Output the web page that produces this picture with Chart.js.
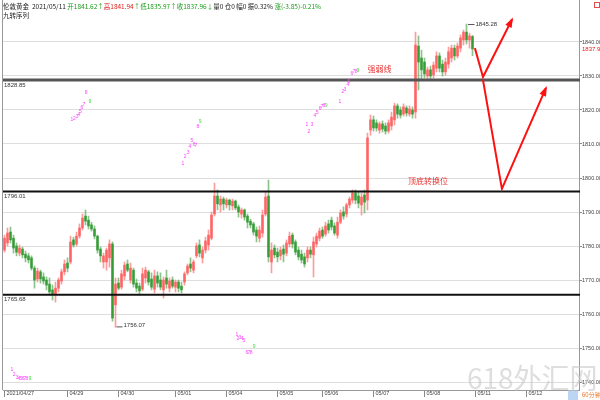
<!DOCTYPE html>
<html><head><meta charset="utf-8">
<script src="https://cdn.jsdelivr.net/npm/chart.js@4/dist/chart.umd.min.js"></script>
<style>html,body{margin:0;padding:0;background:#fff}canvas{display:block}</style>
</head><body>
<canvas id="c" width="600" height="400"></canvas>
<script>
// ---- data ----
const open = [
1778.8,1780.9,1784.1,1782.3,1780.0,1777.9,1779.1,1777.6,1777.1,1776.5,
1773.5,1770.3,1772.4,1770.9,1770.0,1768.8,1767.1,1765.9,1767.6,1769.7,
1772.4,1775.0,1775.3,1781.8,1780.6,1782.9,1785.3,1788.8,1787.6,1786.2,
1785.0,1782.9,1779.1,1775.3,1775.3,1776.5,1780.6,1762.7,1769.1,1767.9,
1771.2,1774.7,1770.0,1772.9,1769.1,1768.2,1767.3,1770.6,1772.4,1770.3,
1767.3,1771.2,1770.0,1767.1,1770.6,1767.6,1770.0,1767.9,1769.4,1768.2,
1769.4,1772.1,1774.7,1772.9,1777.1,1780.3,1776.5,1778.8,1780.3,1782.3,
1789.4,1794.7,1792.1,1793.8,1792.1,1793.5,1791.8,1793.2,1791.5,1789.4,
1790.6,1788.8,1787.3,1786.5,1784.7,1782.3,1783.8,1789.4,1794.7,1775.3,
1779.4,1778.2,1777.1,1779.1,1777.9,1780.6,1783.2,1781.2,1778.8,1777.6,
1776.8,1776.5,1778.8,1777.4,1780.6,1782.3,1784.7,1783.5,1786.5,1787.6,
1785.9,1783.2,1787.0,1790.0,1789.4,1792.1,1793.5,1795.6,1794.7,1792.1,
1795.0,1793.5,1814.1,1817.1,1816.2,1814.1,1815.9,1815.3,1813.8,1815.3,
1817.1,1821.2,1820.0,1818.8,1820.6,1818.8,1820.0,1819.4,1838.8,1835.3,
1834.1,1830.0,1831.8,1830.3,1832.3,1835.9,1833.5,1831.2,1833.5,1835.3,
1838.2,1835.9,1838.2,1840.6,1842.9,1840.6,1841.62];
const high = [
1783.2,1785.3,1785.6,1783.2,1780.9,1780.3,1779.7,1778.5,1777.9,1777.1,
1774.1,1773.5,1772.9,1772.1,1770.9,1770.6,1768.5,1769.4,1770.6,1773.2,
1775.9,1776.5,1782.9,1782.6,1784.1,1786.5,1789.4,1790.6,1788.8,1787.0,
1785.9,1783.2,1779.7,1777.9,1779.4,1781.8,1781.2,1770.6,1770.6,1772.9,
1775.3,1775.9,1775.0,1773.5,1770.3,1769.1,1773.5,1773.8,1772.9,1772.1,
1772.9,1772.4,1772.1,1770.9,1772.9,1770.6,1770.9,1770.0,1770.0,1769.4,
1772.4,1774.7,1776.5,1775.9,1780.9,1781.8,1779.7,1782.6,1784.7,1790.0,
1798.5,1796.5,1794.7,1794.4,1794.1,1793.8,1793.8,1793.5,1792.1,1791.2,
1790.9,1789.4,1787.9,1787.0,1785.6,1785.9,1790.6,1795.9,1799.4,1780.9,
1780.3,1779.4,1779.7,1780.3,1781.8,1784.1,1783.8,1781.8,1779.7,1778.8,
1777.9,1779.7,1779.7,1782.6,1783.8,1785.3,1785.6,1787.0,1787.6,1788.5,
1786.8,1788.5,1790.6,1791.5,1792.6,1794.4,1796.5,1796.5,1795.9,1795.6,
1796.5,1813.2,1818.5,1818.2,1817.1,1816.5,1816.8,1816.2,1817.1,1819.4,
1822.0,1821.8,1820.9,1821.8,1821.2,1821.2,1820.9,1842.9,1841.8,1837.6,
1835.3,1832.6,1832.9,1834.1,1837.1,1836.8,1834.7,1835.3,1838.5,1839.1,
1839.1,1839.7,1842.1,1843.5,1845.28,1842.6,1841.94];
const low = [
1778.2,1780.0,1780.9,1777.9,1777.1,1777.1,1776.5,1775.3,1775.0,1772.9,
1767.6,1769.4,1769.1,1768.8,1767.1,1765.6,1764.1,1763.5,1766.5,1768.8,
1771.5,1772.4,1774.7,1779.7,1780.0,1782.3,1784.7,1786.2,1785.0,1784.4,
1782.1,1777.9,1775.3,1773.5,1772.9,1773.8,1757.9,1756.07,1767.1,1767.3,
1770.0,1772.4,1769.1,1767.9,1766.5,1765.6,1766.8,1769.1,1768.5,1767.1,
1766.2,1767.9,1767.1,1764.7,1767.6,1766.5,1767.6,1766.5,1766.5,1766.2,
1768.5,1771.5,1772.4,1772.1,1776.5,1776.8,1775.0,1777.9,1778.8,1781.8,
1788.8,1790.6,1790.0,1790.6,1791.2,1790.6,1790.6,1790.6,1788.5,1788.2,
1787.6,1785.3,1785.3,1783.2,1781.2,1781.2,1782.6,1788.8,1775.3,1772.1,
1776.5,1775.3,1775.9,1775.3,1777.1,1779.7,1779.4,1777.4,1775.9,1775.0,
1773.8,1775.3,1776.5,1770.9,1779.7,1781.5,1782.3,1782.9,1783.8,1784.7,
1783.2,1782.3,1786.5,1787.9,1788.5,1791.2,1792.6,1792.4,1791.2,1789.1,
1789.7,1790.6,1812.6,1813.8,1813.8,1813.2,1813.5,1812.9,1813.2,1814.1,
1815.6,1817.6,1817.6,1818.2,1818.2,1818.2,1817.6,1817.6,1825.9,1828.8,
1829.4,1828.8,1828.8,1829.4,1831.2,1831.2,1830.0,1830.3,1832.3,1834.1,
1834.7,1835.3,1837.1,1839.1,1839.4,1838.2,1835.97];
const close = [
1782.3,1783.8,1781.8,1779.4,1778.2,1779.4,1777.4,1776.5,1775.9,1773.5,
1770.0,1772.6,1770.3,1769.7,1768.5,1766.5,1765.9,1767.6,1770.0,1772.4,
1774.7,1773.5,1781.2,1780.3,1782.9,1785.3,1788.2,1787.3,1785.9,1785.0,
1782.9,1778.8,1777.1,1777.1,1778.8,1780.6,1758.8,1768.8,1767.6,1771.8,
1774.4,1772.9,1773.5,1768.8,1767.6,1766.8,1771.8,1772.9,1769.4,1767.9,
1771.2,1769.1,1767.9,1770.0,1768.8,1769.7,1768.2,1769.4,1767.6,1767.1,
1771.8,1774.1,1773.5,1775.3,1780.0,1777.9,1778.8,1781.5,1783.2,1789.1,
1794.7,1792.4,1793.8,1792.4,1793.5,1792.1,1793.2,1791.2,1790.0,1790.6,
1788.5,1787.0,1786.2,1784.1,1782.9,1784.7,1789.1,1794.4,1776.8,1778.8,
1777.4,1776.8,1778.8,1777.6,1780.9,1782.9,1780.6,1778.2,1776.8,1775.9,
1774.7,1778.8,1777.6,1781.2,1782.9,1784.4,1782.9,1785.9,1784.7,1785.6,
1783.8,1787.0,1789.7,1788.8,1792.1,1793.8,1795.6,1793.5,1792.6,1794.4,
1792.9,1811.8,1817.1,1814.7,1814.7,1815.9,1814.4,1813.8,1816.2,1817.9,
1821.2,1818.8,1818.5,1820.9,1819.1,1820.3,1818.8,1839.1,1834.1,1831.8,
1830.6,1831.8,1830.0,1833.2,1835.9,1832.3,1831.2,1834.1,1837.1,1838.2,
1835.9,1838.8,1841.2,1842.9,1840.6,1841.8,1837.96];

const totalSlots = 192;                 // hourly slots incl. empty future
const dayLabels = ['2021/04/27','04/29','04/30','05/01','05/04','05/05','05/06','05/07','05/08','05/11','05/12'];
const dayStart  = [0,21,38,57,74,91,106,123,140,157,174];
const yTicks = [1740,1750,1760,1770,1780,1790,1800,1810,1820,1830,1840];
const levelValues = [1828.85, 1796.01, 1765.68];
const highMark = {idx:154, value:1845.28};
const lowMark  = {idx:37,  value:1756.07};
const lastPrice = 1837.96;
const arrowA = [[156.8,1838.2],[159.5,1829.7],[169.2,1846.7]];
const arrowB = [[159.5,1828.8],[165.8,1796.8],[180.5,1826.5]];
const tdNums = [
 [22.5,1817.1,'1'],[23.3,1817.4,'2'],[24.2,1818.0,'3'],[24.8,1818.5,'4'],[25.3,1819.4,'5'],[25.8,1820.6,'6'],[26.5,1821.5,'7'],[27.2,1825.0,'8'],[28.5,1822.4,'9'],
 [59.5,1804.1,'1'],[60.2,1806.2,'2'],[61.2,1807.4,'3'],[61.8,1809.1,'4'],[62.5,1810.9,'5'],[63.2,1809.7,'6'],[63.8,1809.4,'7'],[64.5,1815.0,'8'],[65.2,1816.5,'9'],
 [100.8,1815.6,'1'],[101.5,1813.5,'2'],[102.5,1815.6,'3'],[103.5,1818.2,'4'],[104.2,1819.1,'5'],[105.2,1820.3,'6'],[105.8,1820.9,'7'],[106.5,1821.2,'8'],[107.2,1821.2,'9'],
 [111.8,1822.4,'1'],[112.8,1825.3,'2'],[113.5,1825.9,'3'],[114.5,1827.6,'4'],[114.8,1828.2,'5'],[115.8,1830.6,'6'],[116.5,1831.2,'7'],[117.2,1831.2,'8'],[117.8,1831.5,'9'],
 [77.5,1753.8,'1'],[77.8,1752.9,'2'],[78.5,1753.2,'3'],[79.2,1752.9,'4'],[79.8,1752.3,'5'],[80.8,1748.5,'6'],[81.5,1748.5,'7'],[82.2,1748.5,'8'],[83.2,1750.3,'9'],
 [2.5,1743.5,'1'],[3.2,1742.3,'2'],[4.2,1741.2,'3'],[4.8,1740.9,'4'],[5.5,1740.9,'5'],[6.2,1740.9,'6'],[6.8,1740.9,'7'],[7.5,1740.9,'8'],[8.5,1740.9,'9']
];
const headerParts = [
 ['伦敦黄金  2021/05/11 ','#222'],['开1841.62','#1a9a1a'],['↑','#1a9a1a'],['高1841.94','#e02020'],['↑','#1a9a1a'],
 ['低1835.97','#1a9a1a'],['↑','#1a9a1a'],['收1837.96','#1a9a1a'],['↓','#1a9a1a'],['量0 仓0 幅0 振0.32% ','#222'],['涨(-3.85)-0.21%','#1a9a1a']
];
const header2 = '九转序列';
const notes = [{text:'强弱线', idx:121, value:1832.0},{text:'顶底转换位', idx:134.5, value:1799.0}];

// ---- build ----
const slotLabels = Array.from({length: totalSlots}, () => '');
dayStart.forEach((s, k) => { slotLabels[s] = dayLabels[k]; });
const isUp = i => close[i] >= open[i];
const RED = 'rgba(255,90,90,0.85)', GREEN = 'rgba(40,150,40,0.85)';
const RED_W = 'rgba(255,130,130,0.8)', GREEN_W = 'rgba(90,170,90,0.7)';
const FONT = "'Liberation Sans', Arial, 'Noto Sans CJK SC', sans-serif";
const CJK = "'Noto Sans CJK SC', 'Liberation Sans', sans-serif";

const overlay = {
  id: 'overlay',
  afterDatasetsDraw(chart) {
    const {ctx, chartArea: ca, scales: {x, y}} = chart;
    ctx.save();
    levelValues.forEach((v, k) => {
      const py = y.getPixelForValue(v);
      ctx.beginPath();
      ctx.strokeStyle = k === 0 ? '#555' : '#111';
      ctx.lineWidth = k === 0 ? 3 : 2;
      ctx.moveTo(ca.left, py); ctx.lineTo(ca.right + 1, py); ctx.stroke();
      ctx.fillStyle = '#333'; ctx.font = '6px ' + FONT;
      ctx.textBaseline = 'top'; ctx.textAlign = 'left';
      ctx.fillText(v.toFixed(2), ca.left + 1, py + 2);
    });
    ctx.strokeStyle = '#555'; ctx.lineWidth = 1; ctx.fillStyle = '#333'; ctx.font = '6px ' + FONT;
    let hx = x.getPixelForValue(highMark.idx), hy = y.getPixelForValue(highMark.value);
    ctx.beginPath(); ctx.moveTo(hx + 1.5, hy + 0.5); ctx.lineTo(hx + 8, hy + 0.5); ctx.stroke();
    ctx.textBaseline = 'middle'; ctx.fillText(highMark.value.toFixed(2), hx + 9, hy);
    let lx = x.getPixelForValue(lowMark.idx), ly = y.getPixelForValue(lowMark.value);
    ctx.beginPath(); ctx.moveTo(lx + 1, ly - 0.5); ctx.lineTo(lx + 7, ly - 0.5); ctx.stroke();
    ctx.textBaseline = 'bottom'; ctx.fillText(lowMark.value.toFixed(2), lx + 8, ly + 1);
    ctx.font = '5px ' + FONT; ctx.textAlign = 'center'; ctx.textBaseline = 'middle';
    tdNums.forEach(([i, v, t]) => {
      ctx.fillStyle = t === '9' ? '#3ddc3d' : '#ff40ff';
      ctx.fillText(t, x.getPixelForValue(i), y.getPixelForValue(v));
    });
    ctx.font = '8px ' + CJK; ctx.fillStyle = '#e83030'; ctx.textAlign = 'left'; ctx.textBaseline = 'middle';
    notes.forEach(n => ctx.fillText(n.text, x.getPixelForValue(n.idx), y.getPixelForValue(n.value)));
    const drawArrow = pts => {
      const p = pts.map(([i, v]) => [x.getPixelForValue(i), y.getPixelForValue(v)]);
      ctx.strokeStyle = '#ff1010'; ctx.fillStyle = '#ff1010'; ctx.lineWidth = 2;
      ctx.beginPath(); ctx.moveTo(p[0][0], p[0][1]);
      for (let k = 1; k < p.length; k++) ctx.lineTo(p[k][0], p[k][1]);
      ctx.stroke();
      const [x1, y1] = p[p.length - 2], [x2, y2] = p[p.length - 1];
      const a = Math.atan2(y2 - y1, x2 - x1), L = 8, W = 3.5;
      ctx.beginPath();
      ctx.moveTo(x2 + Math.cos(a) * 2, y2 + Math.sin(a) * 2);
      ctx.lineTo(x2 - Math.cos(a) * L + Math.sin(a) * W, y2 - Math.sin(a) * L - Math.cos(a) * W);
      ctx.lineTo(x2 - Math.cos(a) * L - Math.sin(a) * W, y2 - Math.sin(a) * L + Math.cos(a) * W);
      ctx.closePath(); ctx.fill();
    };
    drawArrow(arrowA); drawArrow(arrowB);
    ctx.restore();
  },
  afterDraw(chart) {
    const {ctx, chartArea: ca, scales: {y}} = chart;
    ctx.save();
    ctx.strokeStyle = '#999'; ctx.lineWidth = 1;
    ctx.beginPath(); ctx.moveTo(ca.left - 0.5, 0); ctx.lineTo(ca.left - 0.5, ca.bottom); ctx.stroke();
    ctx.beginPath(); ctx.moveTo(ca.right + 0.5, 0); ctx.lineTo(ca.right + 0.5, ca.top); ctx.stroke();
    ctx.font = '6.5px ' + CJK; ctx.textBaseline = 'middle'; ctx.textAlign = 'left';
    let cx = 3;
    headerParts.forEach(([t, c]) => { ctx.fillStyle = c; ctx.fillText(t, cx, 7); cx += ctx.measureText(t).width; });
    ctx.fillStyle = '#222'; ctx.fillText(header2, 3, 16);
    ctx.font = '6px ' + FONT; ctx.fillStyle = '#e02020';
    ctx.fillText(lastPrice.toFixed(2), ca.right + 3, y.getPixelForValue(lastPrice));
    ctx.strokeStyle = '#e05050'; ctx.strokeRect(594.5, 2.5, 5, 5);
    ctx.fillStyle = '#bcd5f2'; ctx.fillRect(ca.right - 11, ca.bottom + 0.5, 10, 10);
    ctx.fillStyle = '#e8782a'; ctx.font = '6px ' + CJK;
    ctx.fillText('60分钟', ca.right + 3, ca.bottom + 5);
    ctx.font = '28px ' + CJK; ctx.fillStyle = 'rgba(200,200,200,0.6)'; ctx.textBaseline = 'alphabetic';
    ctx.fillText('618外汇网', 467, 389);
    ctx.restore();
  }
};

new Chart(document.getElementById('c'), {
  type: 'bar',
  data: {
    labels: slotLabels,
    datasets: [
      { data: low.map((l, i) => [l, high[i]]), grouped: false, barThickness: 1,
        backgroundColor: c => isUp(c.dataIndex) ? RED_W : GREEN_W, borderWidth: 0, order: 2 },
      { data: open.map((o, i) => [o, close[i]]), grouped: false, barThickness: 2, minBarLength: 1,
        backgroundColor: c => isUp(c.dataIndex) ? RED : GREEN, borderWidth: 0, order: 1 }
    ]
  },
  options: {
    responsive: false, animation: false, devicePixelRatio: 1,
    layout: { padding: { left: 3, top: 10, right: 0, bottom: 0 } },
    plugins: { legend: { display: false }, tooltip: { enabled: false } },
    scales: {
      x: {
        offset: true,
        grid: { display: true, drawOnChartArea: false, offset: false, tickLength: 7, tickColor: '#888', tickWidth: 1 },
        border: { color: '#999' },
        ticks: { autoSkip: false, maxRotation: 0, minRotation: 0, align: 'start', padding: -7, labelOffset: 2,
                 font: { size: 5.5, family: FONT }, color: '#444' },
        afterBuildTicks: s => { s.ticks = s.ticks.filter(t => slotLabels[t.value]); },
        afterFit: s => { s.height = 10; }
      },
      y: {
        position: 'right', min: 1737.65, max: 1849.41,
        afterBuildTicks: s => { s.ticks = yTicks.map(v => ({value: v})); },
        ticks: { callback: v => Number(v).toFixed(2), padding: 0, font: { size: 5.5, family: FONT }, color: '#444' },
        grid: { color: '#dedede', tickLength: 3, tickColor: '#888' },
        border: { color: '#999' },
        afterFit: s => { s.width = 21; }
      }
    }
  },
  plugins: [overlay]
});
</script>
</body></html>
